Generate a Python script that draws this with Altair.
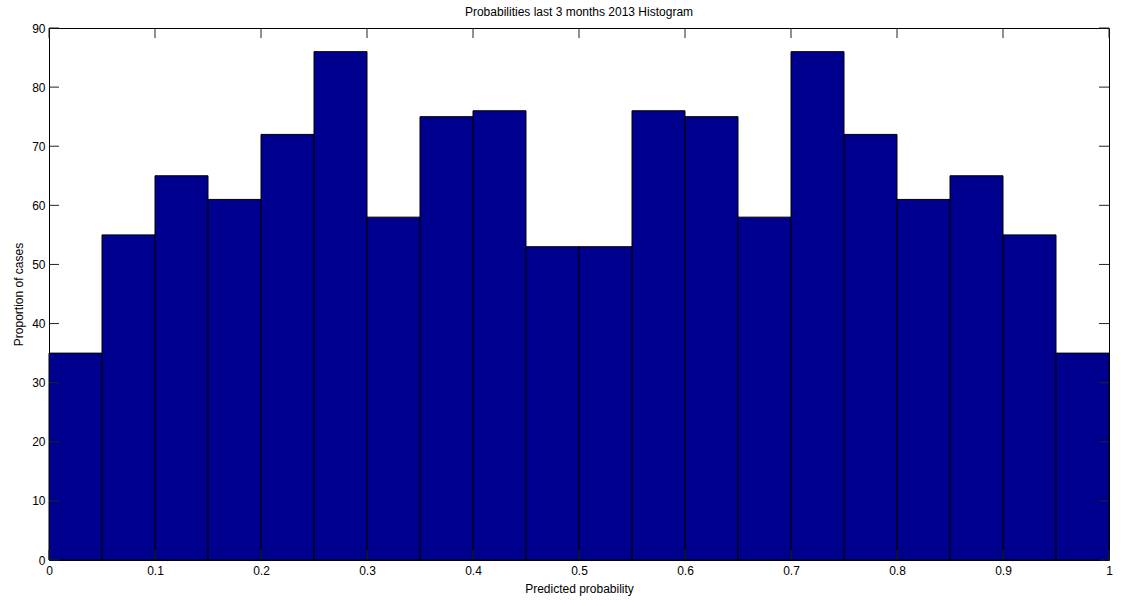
import altair as alt
import pandas as pd

# Histogram bin edges (width 0.05) and counts per bin
bin_start = [0.00, 0.05, 0.10, 0.15, 0.20, 0.25, 0.30, 0.35, 0.40, 0.45,
             0.50, 0.55, 0.60, 0.65, 0.70, 0.75, 0.80, 0.85, 0.90, 0.95]
counts = [35, 55, 65, 61, 72, 86, 58, 75, 76, 53,
          53, 76, 75, 58, 86, 72, 61, 65, 55, 35]
bin_width = 0.05

x_ticks = [0, 0.1, 0.2, 0.3, 0.4, 0.5, 0.6, 0.7, 0.8, 0.9, 1]
y_ticks = [0, 10, 20, 30, 40, 50, 60, 70, 80, 90]

W, H = 1060, 532
FONT = "Liberation Sans"

bars_df = pd.DataFrame({
    "start": bin_start,
    "end": [s + bin_width for s in bin_start],
    "count": counts,
})
xt_df = pd.DataFrame({"v": x_ticks})
yt_df = pd.DataFrame({"v": y_ticks})

x_scale = alt.Scale(domain=[0, 1], nice=False, zero=False)
y_scale = alt.Scale(domain=[0, 90], nice=False)

bars = alt.Chart(bars_df).mark_rect(
    color="#00008F", stroke="#000000", strokeWidth=1
).encode(
    x=alt.X("start:Q", scale=x_scale,
            axis=alt.Axis(values=x_ticks, format="~g", tickSize=0, domain=False,
                          grid=False, labelPadding=5, labelFontSize=12,
                          labelFont=FONT, labelColor="#000000", labelFlush=False,
                          title="Predicted probability", titleFontSize=12,
                          titleFont=FONT, titleFontWeight="normal",
                          titleColor="#000000", titlePadding=7)),
    x2="end:Q",
    y=alt.Y("count:Q", scale=y_scale,
            axis=alt.Axis(values=y_ticks, tickSize=0, domain=False, grid=False,
                          labelPadding=4, labelFontSize=12, labelFont=FONT,
                          labelColor="#000000", labelFlush=False,
                          title="Proportion of cases", titleFontSize=12,
                          titleFont=FONT, titleFontWeight="normal",
                          titleColor="#000000", titlePadding=6)),
    y2=alt.datum(0),
)

tick_len = 10
tick_color = "#222222"

bottom_ticks = alt.Chart(xt_df).mark_rule(color=tick_color, strokeWidth=1).encode(
    x=alt.X("v:Q", scale=x_scale), y=alt.value(H), y2=alt.value(H - tick_len))
top_ticks = alt.Chart(xt_df).mark_rule(color=tick_color, strokeWidth=1).encode(
    x=alt.X("v:Q", scale=x_scale), y=alt.value(0), y2=alt.value(tick_len))
left_ticks = alt.Chart(yt_df).mark_rule(color=tick_color, strokeWidth=1).encode(
    y=alt.Y("v:Q", scale=y_scale), x=alt.value(0), x2=alt.value(tick_len))
right_ticks = alt.Chart(yt_df).mark_rule(color=tick_color, strokeWidth=1).encode(
    y=alt.Y("v:Q", scale=y_scale), x=alt.value(W), x2=alt.value(W - tick_len))

chart = alt.layer(
    bars, bottom_ticks, top_ticks, left_ticks, right_ticks
).properties(
    width=W, height=H,
    title=alt.Title("Probabilities last 3 months 2013 Histogram", fontSize=12,
                    font=FONT, fontWeight="normal", color="#000000", offset=3),
    autosize=alt.AutoSizeParams(type="none"),
    padding={"left": 49, "top": 28, "right": 13, "bottom": 43},
    background="#ffffff",
).configure_view(
    stroke="#000000", strokeWidth=1
)

chart.save("out.html", embed_options={"renderer": "svg", "actions": False})
